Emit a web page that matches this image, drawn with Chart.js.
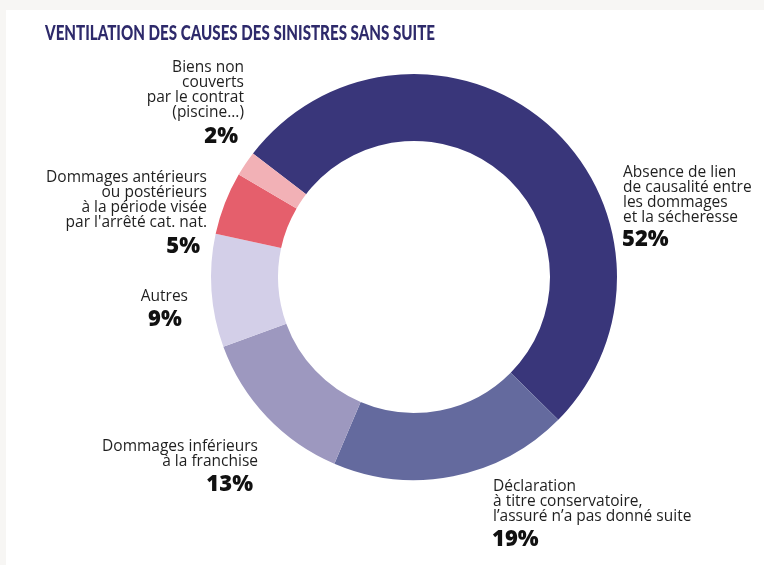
<!DOCTYPE html>
<html lang="fr">
<head>
  <meta charset="UTF-8">
  <title>Ventilation des causes des sinistres sans suite</title>
  <style>
    * { box-sizing: border-box; margin: 0; padding: 0; }
    body { width: 764px; height: 565px; background: #f7f6f4; overflow: hidden; position: relative; }
    .card { position: absolute; left: 6px; top: 10px; right: 0; bottom: 0; background: #fff; }
    #chart { position: absolute; left: 0; top: 0; }
  </style>
</head>
<body>
  <div class="card"></div>
  <canvas id="chart" width="764" height="565"></canvas>

  <script src="https://cdn.jsdelivr.net/npm/chart.js"></script>
  <script>
    const title = 'VENTILATION DES CAUSES DES SINISTRES SANS SUITE';
    const categories = [
      ['Absence de lien', 'de causalité entre', 'les dommages', 'et la sécheresse'],
      ['Déclaration', 'à titre conservatoire,', 'l\u2019assuré n\u2019a pas donné suite'],
      ['Dommages inférieurs', 'à la franchise'],
      ['Autres'],
      ['Dommages antérieurs', 'ou postérieurs', 'à la période visée', 'par l\'arrêté cat. nat.'],
      ['Biens non', 'couverts', 'par le contrat', '(piscine...)']
    ];
    const shares = [52, 19, 13, 9, 5, 2];
    const colors = ['#39367a', '#646a9e', '#9d98bf', '#d3cfe8', '#e55f6c', '#f2b1b6'];

    // where each annotation sits (text block + percentage)
    const labelLayout = [
      { x: 623, y: 173, align: 'left',  px: 622, py: 240, palign: 'left' },
      { x: 493, y: 487, align: 'left',  px: 492, py: 540, palign: 'left' },
      { x: 258, y: 447, align: 'right', px: 253, py: 485, palign: 'right' },
      { x: 188, y: 297, align: 'right', px: 165, py: 320, palign: 'center' },
      { x: 207, y: 178, align: 'right', px: 200, py: 247, palign: 'right' },
      { x: 244, y: 68,  align: 'right', px: 238, py: 137, palign: 'right' }
    ];

    const annotations = {
      id: 'annotations',
      afterDraw(chart) {
        const ctx = chart.ctx;
        ctx.save();
        // title, squeezed to the reference width
        ctx.font = '900 21px Lato, "Open Sans", sans-serif';
        ctx.fillStyle = '#2e2a6b';
        ctx.textBaseline = 'alphabetic';
        ctx.textAlign = 'left';
        const tw = ctx.measureText(title).width;
        ctx.save();
        ctx.translate(45, 40);
        ctx.scale(390 / tw, 1);
        ctx.fillText(title, 0, 0);
        ctx.restore();

        ctx.textBaseline = 'middle';
        categories.forEach((lines, i) => {
          const l = labelLayout[i];
          ctx.fillStyle = '#1f1f1f';
          ctx.font = '15.5px "Open Sans", sans-serif';
          ctx.textAlign = l.align;
          lines.forEach((t, k) => ctx.fillText(t, l.x, l.y + k * 15));
          ctx.fillStyle = '#111';
          ctx.font = '800 22px "Open Sans", sans-serif';
          ctx.textAlign = l.palign;
          ctx.fillText(shares[i] + '%', l.px, l.py);
        });
        ctx.restore();
      }
    };

    new Chart(document.getElementById('chart').getContext('2d'), {
      type: 'doughnut',
      data: {
        labels: categories.map(c => c.join(' ')),
        datasets: [{
          data: shares,
          backgroundColor: colors,
          borderWidth: 0
        }]
      },
      options: {
        responsive: false,
        animation: false,
        rotation: -52.5,
        cutout: '67%',
        layout: { padding: { left: 211, right: 147, top: 74, bottom: 85 } },
        plugins: {
          legend: { display: false },
          tooltip: { enabled: false }
        }
      },
      plugins: [annotations]
    });
  </script>
</body>
</html>
